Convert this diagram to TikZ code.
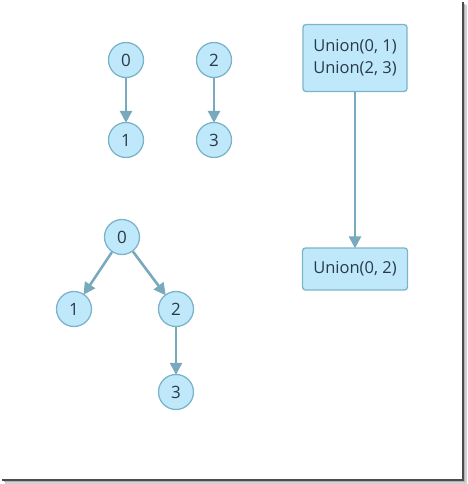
\documentclass[tikz,border=0pt]{standalone}
\usepackage{fontspec}
\setmainfont{Open Sans}
\usetikzlibrary{arrows.meta}
\definecolor{nodefill}{HTML}{BFE9FA}
\definecolor{nodeline}{HTML}{7DB4CA}
\definecolor{edgecol}{HTML}{79A9BD}
\definecolor{txt}{HTML}{2B3A48}
\tikzset{
  vert/.style={circle, draw=nodeline, fill=nodefill, line width=1.3pt, minimum size=35pt, inner sep=0pt, font=\fontsize{17}{20}\selectfont, text=txt},
  opbox/.style={rectangle, rounded corners=3pt, draw=nodeline, fill=nodefill, line width=1.3pt, font=\fontsize{16.5}{22}\selectfont, text=txt, align=center},
  link/.style={draw=edgecol, line width=2.6pt, -{Triangle[length=12pt,width=12pt]}, shorten >=-1pt}
}
\begin{document}
\begin{tikzpicture}[x=1pt,y=-1pt]
\useasboundingbox (0,0) rectangle (467,484);
% frame shadow
\fill[gray!35] (465,5) rectangle (466.5,482);
\fill[gray!35] (5,482) rectangle (466.5,483.5);
\fill[gray!60] (463.5,4) rectangle (465,481.5);
\fill[gray!60] (4,481) rectangle (465,482);
\fill[black!70] (461.5,2) rectangle (463.5,481);
\fill[black!70] (2,479) rectangle (463.5,481);
% top pairs
\node[vert] (a0) at (126,60) {0};
\node[vert] (a1) at (126,140) {1};
\node[vert] (b2) at (214,60) {2};
\node[vert] (b3) at (214,140) {3};
\draw[link] (a0) -- (a1);
\draw[link] (b2) -- (b3);
% boxes
\node[opbox, minimum width=104pt, minimum height=67pt] (u1) at (355,58) {Union(0, 1)\\Union(2, 3)};
\node[opbox, minimum width=105pt, minimum height=42pt] (u2) at (355,269) {Union(0, 2)};
\draw[link] (u1) -- (u2);
% tree
\node[vert] (t0) at (122,237) {0};
\node[vert] (t1) at (74,309) {1};
\node[vert] (t2) at (176,309) {2};
\node[vert] (t3) at (176,392) {3};
\draw[link] (t0) -- (t1);
\draw[link] (t0) -- (t2);
\draw[link] (t2) -- (t3);
\end{tikzpicture}
\end{document}
